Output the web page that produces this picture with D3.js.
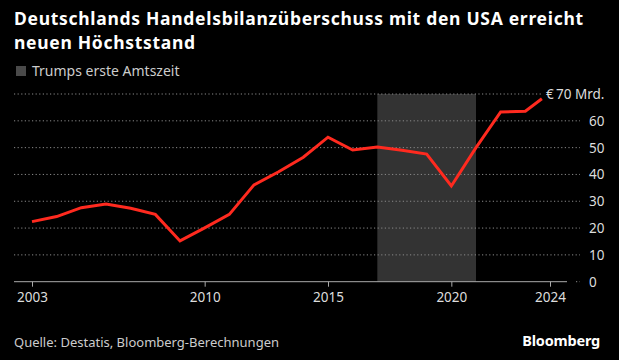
<!DOCTYPE html>
<html><head><meta charset="utf-8">
<script src="https://cdn.jsdelivr.net/npm/d3@7"></script>
<style>
html,body{margin:0;padding:0;background:#000;}
svg{display:block;}
</style></head>
<body>
<script>
const years = [2003,2004,2005,2006,2007,2008,2009,2010,2011,2012,2013,2014,2015,2016,2017,2018,2019,2020,2021,2022,2023,2023.67];
const values = [22.4,24.3,27.6,29.0,27.4,25.1,15.2,20.1,25.1,36.1,41.0,46.4,53.9,49.1,50.2,49.0,47.6,35.7,50.0,63.3,63.6,68.2];
const xTicks = [2003,2010,2015,2020,2024];
const yTicks = [0,10,20,30,40,50,60,70];
const shadeRange = [2017,2021];
const title = ["Deutschlands Handelsbilanzüberschuss mit den USA erreicht","neuen Höchststand"];
const legendLabel = "Trumps erste Amtszeit";
const source = "Quelle: Destatis, Bloomberg-Berechnungen";

const W=619,H=360;
const svg=d3.select("body").append("svg").attr("width",W).attr("height",H);
svg.append("rect").attr("width",W).attr("height",H).attr("fill","#000");

const x=d3.scaleLinear().domain([2003,2024]).range([32,550]);
const y=d3.scaleLinear().domain([0,70]).range([281.7,94]);

// title
svg.append("g").selectAll("text").data(title).join("text")
  .attr("x",14).attr("y",(d,i)=>25+i*23.5)
  .attr("fill","#fff").attr("font-family","Noto Sans, sans-serif")
  .attr("font-weight","bold").attr("font-size",17.5).attr("letter-spacing",0.7)
  .text(d=>d);

// legend
svg.append("rect").attr("x",16).attr("y",66).attr("width",10).attr("height",10).attr("fill","#4a4a4a");
svg.append("text").attr("x",32).attr("y",76).attr("fill","#ccc")
  .attr("font-family","Noto Sans, sans-serif").attr("font-size",14).text(legendLabel);

// shade
svg.append("rect").attr("x",x(shadeRange[0])).attr("y",y(70))
  .attr("width",x(shadeRange[1])-x(shadeRange[0])).attr("height",y(0)-y(70))
  .attr("fill","#333");

// gridlines
svg.append("g").selectAll("line").data(yTicks.filter(d=>d>0)).join("line")
  .attr("x1",14).attr("x2",d=>d===70?541:580)
  .attr("y1",d=>y(d)).attr("y2",d=>y(d))
  .attr("stroke","#8a8a8a").attr("stroke-width",1).attr("stroke-dasharray","1.2,2.4");
svg.append("line").attr("x1",576).attr("x2",580).attr("y1",y(0)).attr("y2",y(0))
  .attr("stroke","#8a8a8a").attr("stroke-dasharray","1.2,2.4");

// y labels
svg.append("g").selectAll("text").data(yTicks.filter(d=>d<70)).join("text")
  .attr("x",589).attr("y",d=>y(d)+5).attr("fill","#ddd")
  .attr("font-family","Noto Sans, sans-serif").attr("font-size",13.5)
  .text(d=>d);
svg.append("text").attr("x",546).attr("y",y(70)+5).attr("fill","#ddd")
  .attr("font-family","Noto Sans, sans-serif").attr("font-size",13.5)
  .text("€\u200970 Mrd.");

// x axis
const xAxis=svg.append("g").attr("transform",`translate(0,${y(0)})`)
  .call(d3.axisBottom(x).tickValues(xTicks).tickFormat(d3.format("d")).tickSize(5).tickPadding(6).tickSizeOuter(0));
xAxis.select(".domain").attr("d","M14,0H567").attr("stroke","#aaa");
xAxis.selectAll(".tick line").attr("stroke","#aaa");
xAxis.selectAll(".tick text").attr("fill","#ddd").attr("font-family","Noto Sans, sans-serif").attr("font-size",13.5);

// line
const line=d3.line().x((d,i)=>x(years[i])).y(d=>y(d));
svg.append("path").datum(values).attr("d",line).attr("fill","none")
  .attr("stroke","#ff2a1f").attr("stroke-width",3).attr("stroke-linejoin","miter");

// footer
svg.append("text").attr("x",14).attr("y",347).attr("fill","#ccc")
  .attr("font-family","Noto Sans, sans-serif").attr("font-size",13).text(source);
svg.append("text").attr("x",600).attr("y",346).attr("text-anchor","end").attr("fill","#fff")
  .attr("font-family","Noto Sans, sans-serif").attr("font-weight","bold").attr("font-size",14.5).attr("letter-spacing","-0.2").text("Bloomberg");
</script>
</body></html>
